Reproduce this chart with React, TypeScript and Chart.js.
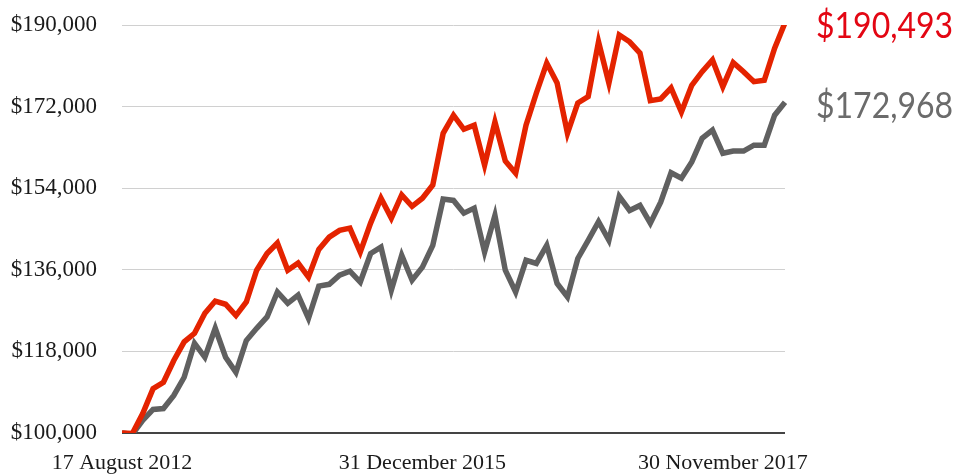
import React, { useEffect, useRef } from "react";
import { Chart, registerables } from "chart.js";

Chart.register(...registerables);

const POINT_COUNT = 65;
const tickIndices = [0, 29, 58];
const tickLabels = ["17 August 2012", "31 December 2015", "30 November 2017"];

const portfolioValues = [
  100.0, 99.9, 104.3, 109.8, 111.2, 116.0, 120.1, 122.0, 126.4, 129.1,
  128.4, 125.9, 128.9, 135.9, 139.6, 141.9, 135.9, 137.5, 134.4, 140.5,
  143.2, 144.7, 145.2, 139.9, 146.3, 151.8, 147.4, 152.5, 150.0, 151.8,
  154.7, 166.1, 170.1, 167.0, 167.9, 159.1, 168.6, 160.0, 157.3, 167.9,
  175.0, 181.6, 177.2, 166.1, 172.8, 174.2, 186.3, 177.2, 187.8, 186.3,
  183.8, 173.3, 173.7, 176.1, 170.8, 176.7, 179.7, 182.3, 176.4, 181.7,
  179.7, 177.5, 177.8, 184.9, 190.493,
].map((v) => v * 1000);

const benchmarkValues = [
  100.0, 99.7, 102.8, 105.2, 105.4, 108.3, 112.3, 119.8, 116.7, 123.1,
  116.7, 113.4, 120.4, 123.1, 125.6, 131.1, 128.6, 130.4, 125.3, 132.4,
  132.8, 134.8, 135.7, 133.3, 139.6, 141.0, 131.5, 139.2, 133.7, 136.6,
  141.4, 151.6, 151.3, 148.5, 149.6, 139.9, 148.0, 135.9, 131.1, 138.1,
  137.4, 141.4, 133.0, 130.0, 138.5, 142.5, 146.6, 142.5, 152.2, 149.1,
  150.2, 146.3, 150.9, 157.4, 156.2, 159.8, 165.0, 166.8, 161.7, 162.2,
  162.2, 163.5, 163.5, 170.1, 172.968,
].map((v) => v * 1000);

const endLabels = ["$190,493", "$172,968"];

const categories = Array.from({ length: POINT_COUNT }, (_, i) => {
  const k = tickIndices.indexOf(i);
  return k >= 0 ? tickLabels[k] : "";
});

const RED = "#e42300";
const GRAY = "#606060";
const RED_TEXT = "#e30613";
const GRAY_TEXT = "#6b6b6b";

const endLabelPlugin = {
  id: "endLabels",
  afterDatasetsDraw(chart: any) {
    const ctx = chart.ctx;
    const colors = [RED_TEXT, GRAY_TEXT];
    chart.data.datasets.forEach((_: any, di: number) => {
      const meta = chart.getDatasetMeta(di);
      const pt = meta.data[meta.data.length - 1];
      if (!pt) return;
      ctx.save();
      ctx.font = '400 32px Lato, "Open Sans", sans-serif';
      ctx.fillStyle = colors[di];
      ctx.textAlign = "left";
      ctx.textBaseline = "middle";
      ctx.translate(816, pt.y + 4);
      ctx.scale(1, 1.12);
      ctx.fillText(endLabels[di], 0, 0);
      ctx.restore();
    });
  },
};

export default function App() {
  const canvasRef = useRef<HTMLCanvasElement | null>(null);

  useEffect(() => {
    document.body.style.margin = "0";
    const canvas = canvasRef.current;
    if (!canvas) return;
    const chart = new Chart(canvas, {
      type: "line",
      data: {
        labels: categories,
        datasets: [
          {
            label: "Portfolio",
            data: portfolioValues,
            borderColor: RED,
            borderWidth: 5.5,
            pointRadius: 0,
            tension: 0,
            fill: false,
          },
          {
            label: "Benchmark",
            data: benchmarkValues,
            borderColor: GRAY,
            borderWidth: 5.5,
            pointRadius: 0,
            tension: 0,
            fill: false,
          },
        ],
      },
      options: {
        animation: false,
        responsive: true,
        maintainAspectRatio: false,
        layout: { padding: { top: 25, right: 174, bottom: 0, left: 0 } },
        plugins: {
          legend: { display: false },
          tooltip: { enabled: false },
        },
        scales: {
          x: {
            afterFit: (s: any) => {
              s.height = 43;
            },
            grid: { display: false },
            border: { display: false },
            ticks: {
              autoSkip: false,
              maxRotation: 0,
              minRotation: 0,
              padding: 9,
              color: "#1a1a1a",
              font: { family: '"Liberation Serif", "DejaVu Serif", serif', size: 22 },
              callback: (_v: any, i: number) => categories[i],
            },
          },
          y: {
            min: 100000,
            max: 190000,
            afterFit: (s: any) => {
              s.width = 122;
              s.paddingTop = 10;
              s.paddingBottom = 0;
            },
            border: { display: false },
            grid: {
              drawTicks: false,
              color: (c: any) => (c.tick && c.tick.value === 100000 ? "#444444" : "#d0d0d0"),
              lineWidth: (c: any) => (c.tick && c.tick.value === 100000 ? 2 : 1),
            },
            ticks: {
              stepSize: 18000,
              padding: 25,
              color: "#1a1a1a",
              font: { family: '"Liberation Serif", "DejaVu Serif", serif', size: 23 },
              callback: (v: any) => "$" + Number(v).toLocaleString("en-US"),
            },
          },
        },
      },
      plugins: [endLabelPlugin],
    });
    return () => chart.destroy();
  }, []);

  return (
    <div style={{ width: 959, height: 476, position: "relative" }}>
      <canvas ref={canvasRef} />
    </div>
  );
}
